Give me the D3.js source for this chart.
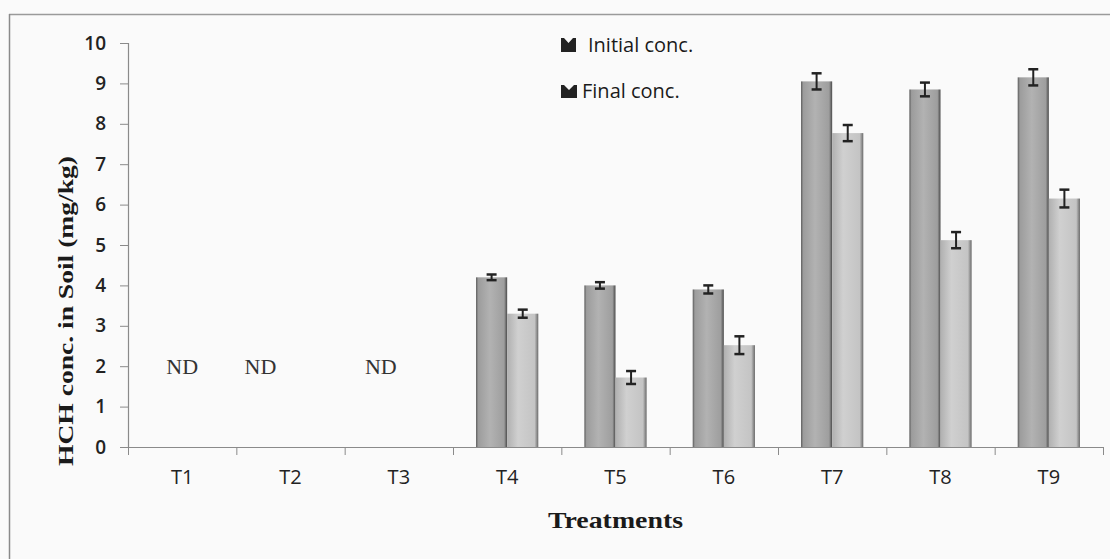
<!DOCTYPE html>
<html>
<head>
<meta charset="utf-8">
<script src="https://cdn.jsdelivr.net/npm/d3@7"></script>
<style>
  html, body { margin: 0; padding: 0; background: #fafafa; }
  svg { display: block; }
</style>
</head>
<body>
<svg id="chart" width="1110" height="559"></svg>
<script>
const categories = ["T1","T2","T3","T4","T5","T6","T7","T8","T9"];
const seriesNames = ["Initial conc.", "Final conc."];
const initialConc = [0, 0, 0, 4.2, 4.0, 3.9, 9.05, 8.85, 9.15];
const finalConc   = [0, 0, 0, 3.3, 1.72, 2.52, 7.77, 5.12, 6.15];
const initialErr  = [0, 0, 0, 0.07, 0.08, 0.1, 0.2, 0.17, 0.2];
const finalErr    = [0, 0, 0, 0.1, 0.16, 0.22, 0.2, 0.2, 0.22];
const detected    = [false, false, false, true, true, true, true, true, true];
const ndCategories = ["T1","T2","T3"];
const ndOffsets = [0, -30, -18];   // shift of ND text within its category
const yTicks = [0,1,2,3,4,5,6,7,8,9,10];

const svg = d3.select("#chart");
const W = 1110, H = 559;
const m = { left: 128, right: 7, top: 43, bottom: 112 };
const iw = W - m.left - m.right, ih = H - m.top - m.bottom;
const sans = "'Open Sans', 'DejaVu Sans', sans-serif";
const serif = "'Liberation Serif', 'DejaVu Serif', serif";

// figure frame
svg.append("line").attr("x1", 9).attr("x2", W).attr("y1", 14.5).attr("y2", 14.5)
  .attr("stroke", "#9a9a9a").attr("stroke-width", 1.5);
svg.append("line").attr("x1", 9.5).attr("x2", 9.5).attr("y1", 14).attr("y2", H)
  .attr("stroke", "#8a8a8a").attr("stroke-width", 1.5);

const defs = svg.append("defs");
function grad(id, stops) {
  const gr = defs.append("linearGradient").attr("id", id)
    .attr("x1", "0%").attr("x2", "100%").attr("y1", "0%").attr("y2", "0%");
  stops.forEach(s => gr.append("stop").attr("offset", s[0]).attr("stop-color", s[1]));
}
grad("gInit", [["0%", "#5a5a5a"], ["7%", "#9c9c9c"], ["45%", "#b2b2b2"], ["90%", "#9e9e9e"], ["100%", "#4a4a4a"]]);
grad("gFinal", [["0%", "#b0b0b0"], ["35%", "#d0d0d0"], ["88%", "#c4c4c4"], ["100%", "#6a6a6a"]]);

const g = svg.append("g").attr("transform", `translate(${m.left},${m.top})`);

const x = d3.scaleBand().domain(categories).range([0, iw]).paddingInner(0).paddingOuter(0);
const xs = d3.scaleBand().domain(seriesNames).range([0, x.bandwidth()]).paddingInner(0).paddingOuter(0.74);
const y = d3.scaleLinear().domain([0, 10]).range([ih, 0]);

// y axis
const yAxis = g.append("g").call(d3.axisLeft(y).tickValues(yTicks).tickSize(8).tickPadding(14));
yAxis.select(".domain").attr("stroke", "#8a8a8a").attr("stroke-width", 1.2);
yAxis.selectAll(".tick line").attr("stroke", "#8a8a8a");
yAxis.selectAll(".tick text").attr("font-family", sans)
  .attr("font-size", 19).attr("font-weight", 600).attr("fill", "#222");

// x axis
const xAxis = g.append("g").attr("transform", `translate(0,${ih})`)
  .call(d3.axisBottom(x).tickSize(0).tickPadding(23));
xAxis.select(".domain").attr("stroke", "#8a8a8a").attr("stroke-width", 1.2);
xAxis.selectAll(".tick text").attr("font-family", sans)
  .attr("font-size", 20).attr("fill", "#222");
// boundary tick marks between categories
g.append("g").selectAll("line").data(categories.concat(["__end"])).join("line")
  .attr("x1", (d, i) => i * x.step() + 0.5).attr("x2", (d, i) => i * x.step() + 0.5)
  .attr("y1", ih).attr("y2", ih + 8).attr("stroke", "#8a8a8a");

// bars
const rows = categories.map((c, i) => ({ c, i, vals: [
  { s: seriesNames[0], v: initialConc[i], e: initialErr[i], fill: "url(#gInit)" },
  { s: seriesNames[1], v: finalConc[i], e: finalErr[i], fill: "url(#gFinal)" }
]})).filter(r => detected[r.i]);

const groups = g.selectAll(".grp").data(rows).join("g")
  .attr("transform", d => `translate(${x(d.c)},0)`);

groups.selectAll("rect").data(d => d.vals).join("rect")
  .attr("x", d => xs(d.s))
  .attr("width", xs.bandwidth())
  .attr("y", d => y(d.v))
  .attr("height", d => y(0) - y(d.v))
  .attr("fill", d => d.fill);

// error bars
const eb = groups.selectAll(".eb").data(d => d.vals).join("g").attr("class", "eb");
const cap = 5;
eb.append("line")
  .attr("x1", d => xs(d.s) + xs.bandwidth() / 2).attr("x2", d => xs(d.s) + xs.bandwidth() / 2)
  .attr("y1", d => y(d.v + d.e)).attr("y2", d => y(d.v - d.e))
  .attr("stroke", "#222").attr("stroke-width", 2);
[1, -1].forEach(sgn => {
  eb.append("line")
    .attr("x1", d => xs(d.s) + xs.bandwidth() / 2 - cap).attr("x2", d => xs(d.s) + xs.bandwidth() / 2 + cap)
    .attr("y1", d => y(d.v + sgn * d.e)).attr("y2", d => y(d.v + sgn * d.e))
    .attr("stroke", "#222").attr("stroke-width", 2.5);
});

// ND labels
g.selectAll(".nd").data(ndCategories).join("text")
  .attr("x", (d, i) => x(d) + x.bandwidth() / 2 + ndOffsets[i])
  .attr("y", y(2)).attr("dy", "0.35em").attr("text-anchor", "middle")
  .attr("font-family", serif)
  .attr("font-size", 22).attr("fill", "#333").text("ND");

// axis titles
svg.append("text")
  .attr("transform", `translate(73,311) rotate(-90)`)
  .attr("text-anchor", "middle")
  .attr("font-family", serif)
  .attr("font-size", 22).attr("font-weight", 700).attr("fill", "#1a1a1a")
  .attr("textLength", 310).attr("lengthAdjust", "spacingAndGlyphs")
  .text("HCH conc. in Soil (mg/kg)");
svg.append("text")
  .attr("x", m.left + iw / 2).attr("y", 528).attr("text-anchor", "middle")
  .attr("font-family", serif)
  .attr("font-size", 24).attr("font-weight", 700).attr("fill", "#1a1a1a")
  .attr("textLength", 135).attr("lengthAdjust", "spacingAndGlyphs")
  .text("Treatments");

// legend
const lg = svg.append("g").attr("transform", "translate(561,45)");
const li = lg.selectAll("g").data(seriesNames).join("g")
  .attr("transform", (d, i) => `translate(0,${i * 46})`);
li.append("path")
  .attr("d", (d, i) => i
    ? "M0,-6 L3,-6 L8,-1 L13,-6 L16,-6 L16,7 L0,7 Z"
    : "M0,-7 L3,-7 L7.5,-2 L12,-7 L15,-7 L15,7 L0,7 Z")
  .attr("fill", "#222");
li.append("text")
  .attr("x", (d, i) => i ? 21 : 27).attr("dy", "0.35em")
  .attr("font-family", sans)
  .attr("font-size", 20).attr("fill", "#1a1a1a")
  .text(d => d);
</script>
</body>
</html>
